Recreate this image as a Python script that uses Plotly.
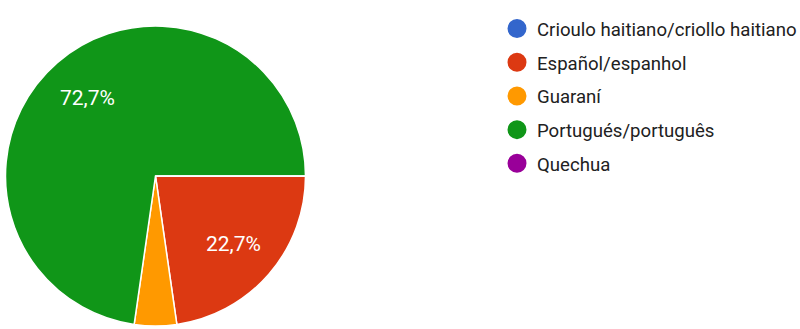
import math
import plotly.graph_objects as go

# Survey answers: language spoken
languages = [
    "Crioulo haitiano/criollo haitiano",
    "Español/espanhol",
    "Guaraní",
    "Portugués/português",
    "Quechua",
]
responses = [0, 5, 1, 16, 0]
colors = ["#3366cc", "#dc3912", "#ff9900", "#109618", "#990099"]

W, H = 800, 329
cx, cy, r = 155.5, 176.0, 150.0  # pie centre / radius in pixels
start_deg = 90                    # first slice starts at 3 o'clock
label_frac = 0.69                 # labels sit at this fraction of the radius

total = sum(responses)

fig = go.Figure()

fig.add_trace(go.Pie(
    labels=languages,
    values=responses,
    marker=dict(colors=colors, line=dict(color="white", width=1.5)),
    sort=False,
    direction="clockwise",
    rotation=start_deg,
    textinfo="none",
    showlegend=False,
    hoverinfo="label+percent",
    domain=dict(x=[(cx - r) / W, (cx + r) / W],
                y=[(H - cy - r) / H, (H - cy + r) / H]),
))

# Percentage labels on the bisector of every slice above 5 %
acc = 0.0
for v in responses:
    frac = v / total
    if frac > 0.05:
        mid = math.radians(start_deg + 360 * (acc + frac / 2))
        px = cx + label_frac * r * math.sin(mid)
        py = cy - label_frac * r * math.cos(mid)
        txt = f"{100 * frac:.1f}%".replace(".", ",")
        fig.add_annotation(
            x=px / W, y=1 - py / H, xref="paper", yref="paper",
            text=txt, showarrow=False, xanchor="center", yanchor="middle",
            font=dict(family="Roboto", size=21, color="white"),
        )
    acc += frac

# Legend entries with round swatches
for name, col in zip(languages, colors):
    fig.add_trace(go.Scatter(
        x=[None], y=[None], mode="markers", name=name,
        legendgroup=name,
        marker=dict(symbol="circle", size=16, color=col,
                    line=dict(color=col, width=3)),
        hoverinfo="skip",
    ))

fig.update_layout(
    width=W, height=H,
    margin=dict(l=0, r=0, t=0, b=0, autoexpand=False),
    paper_bgcolor="white",
    plot_bgcolor="white",
    separators=",.",
    xaxis=dict(visible=False),
    yaxis=dict(visible=False),
    showlegend=True,
    legend=dict(
        x=497 / W, y=1 - 10 / H, xanchor="left", yanchor="top",
        font=dict(family="Roboto", size=18.6, color="#212121"),
        tracegroupgap=6.5,
        itemwidth=30,
        bgcolor="rgba(0,0,0,0)",
    ),
)

fig.write_html("out.html")
